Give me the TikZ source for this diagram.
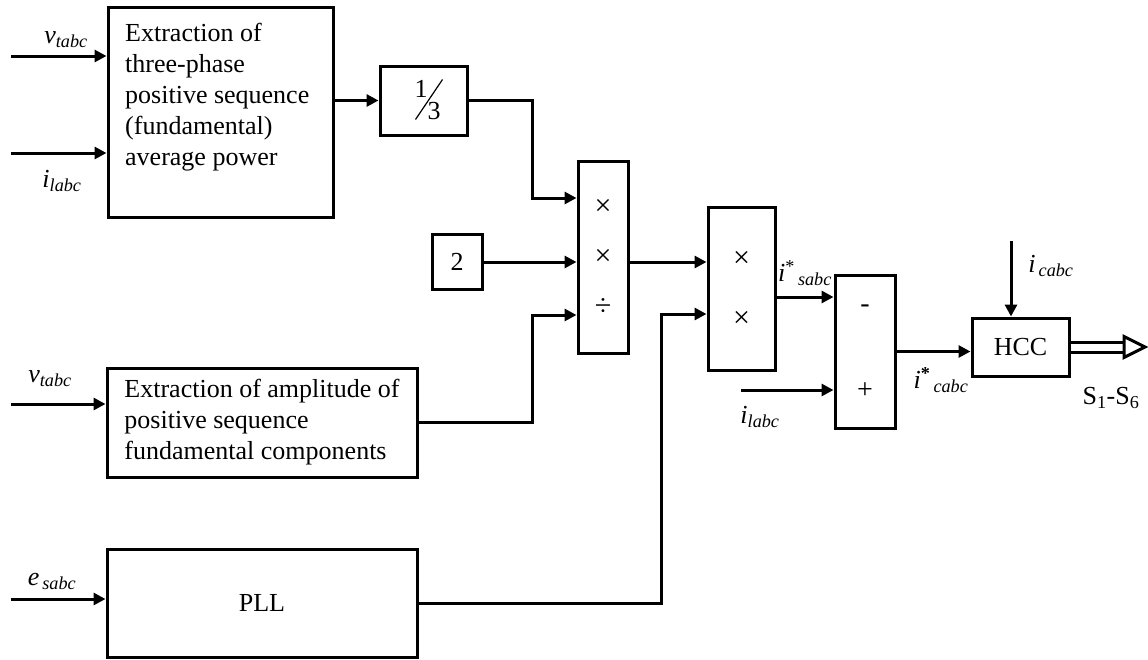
\documentclass[tikz,border=0pt]{standalone}
\usepackage{fontspec}
\setmainfont{Liberation Serif}
\usepackage{graphicx}
\usetikzlibrary{calc, arrows.meta}

\tikzset{
    blk/.style={draw, line width=3pt, inner sep=0pt},
    sig/.style={line width=3pt, -{Triangle[length=12pt,width=12pt]}},
    lbl/.style={inner sep=0pt}
}
\newcommand{\sg}[2]{\textit{#1}\textsubscript{\textit{#2}}}

\begin{document}
\begin{tikzpicture}[x=1pt, y=-1pt, font=\fontsize{26}{31}\selectfont]
            \useasboundingbox (0,0) rectangle (1148,659);
            \node[blk, minimum width=225, minimum height=210] (A) at (220.5,112) {};
            \node[lbl, anchor=north west, align=left] (Atxt) at (125,23) {Extraction of\\three-phase\\positive sequence\\(fundamental)\\average power};
            \node[blk, minimum width=87, minimum height=69] (third) at (423.5,100.5) {\hspace*{8pt}\raisebox{11pt}{1}\raisebox{-11pt}{3}};
            \draw[line width=1.2pt] ($(third.center)+(-8,19)$) -- ($(third.center)+(19,-21)$);
            \node[blk, minimum width=310, minimum height=109, align=left] (B) at (262,422.5) {Extraction of amplitude of\\positive sequence\\fundamental components};
            \node[blk, minimum width=310, minimum height=108] (PLL) at (262,603) {PLL};
            \node[blk, minimum width=50, minimum height=55] (two) at (457,262) {2};
            \node[blk, minimum width=50, minimum height=192, align=center, font=\fontsize{30}{50}\selectfont] (M1) at (603,257) {×\\×\\÷};
            \node[blk, minimum width=67, minimum height=163, align=center, font=\fontsize{30}{60}\selectfont] (M2) at (741.5,289) {×\\×};
            \node[blk, minimum width=60, minimum height=153, align=center, font=\fontsize{28}{86}\selectfont] (S) at (865,351.5) {-\\+};
            \node[blk, minimum width=97, minimum height=58] (H) at (1020.5,347) {HCC};

            \coordinate (v1) at (11,56);
            \coordinate (i1) at (11,153);
            \coordinate (v2) at (11,404);
            \coordinate (e1) at (11,599);
            \coordinate (il2) at (741,390);
            \coordinate (ic) at (1011,241);
            \coordinate (sw) at (1145,343);
            \coordinate (m1a) at ($(M1.west)+(0,-59)$);
            \coordinate (m1c) at ($(M1.west)+(0,58)$);
            \coordinate (m1o) at ($(M1.east)+(0,5)$);
            \coordinate (m2b) at ($(M2.west)+(0,25)$);
            \coordinate (m2o) at ($(M2.east)+(0,8)$);

            \draw[sig] (v1) -- (v1 -| A.west);
            \draw[sig] (i1) -- (i1 -| A.west);
            \draw[sig] (v2) -- (v2 -| B.west);
            \draw[sig] (e1) -- (e1 -| PLL.west);
            \draw[sig] (A.east |- third.west) -- (third.west);
            \draw[sig] (third.east) -- ++(64,0) |- (m1a);
            \draw[sig] (two.east) -- (two.east -| M1.west);
            \draw[sig] (B.east) -- ++(114,0) |- (m1c);
            \draw[sig] (m1o) -- (m1o -| M2.west);
            \draw[sig] (PLL.east) -- ++(243,0) |- (m2b);
            \draw[sig] (m2o) -- (m2o -| S.west);
            \draw[sig] (il2) -- (il2 -| S.west);
            \draw[sig] (S.east) -- (S.east -| H.west);
            \draw[sig] (ic) -- (ic |- H.north);
            \draw[line width=3pt, double distance=7pt] (H.east) -- ($(H.east -| sw)+(-21,0)$);
            \draw[line width=3pt, fill=white] (H.east -| sw) -- ++(-21,-10.5) -- ++(0,21) -- cycle;

            \node[lbl] (lv1) at (66,40) {\sg{v}{tabc}};
            \node[lbl] (li1) at (62,181) {\sg{i}{labc}};
            \node[lbl] (lv2) at (50,379) {\sg{v}{tabc}};
            \node[lbl] (le) at (52,581) {\sg{e}{\,sabc}};
            \node[lbl] (lis) at (805,273) {\textit{i}\textsuperscript{*}\textsubscript{\textit{\,sabc}}};
            \node[lbl] (li2) at (760,417) {\sg{i}{labc}};
            \node[lbl] (lic) at (941,380) {\textit{i}\textsuperscript{\textbf{*}}\textsubscript{\textit{\,cabc}}};
            \node[lbl] (licc) at (1051,266) {\sg{i}{\,cabc}};
            \node[lbl] (ls) at (1111,398) {S\textsubscript{1}-S\textsubscript{6}};
        \end{tikzpicture}
\end{document}
